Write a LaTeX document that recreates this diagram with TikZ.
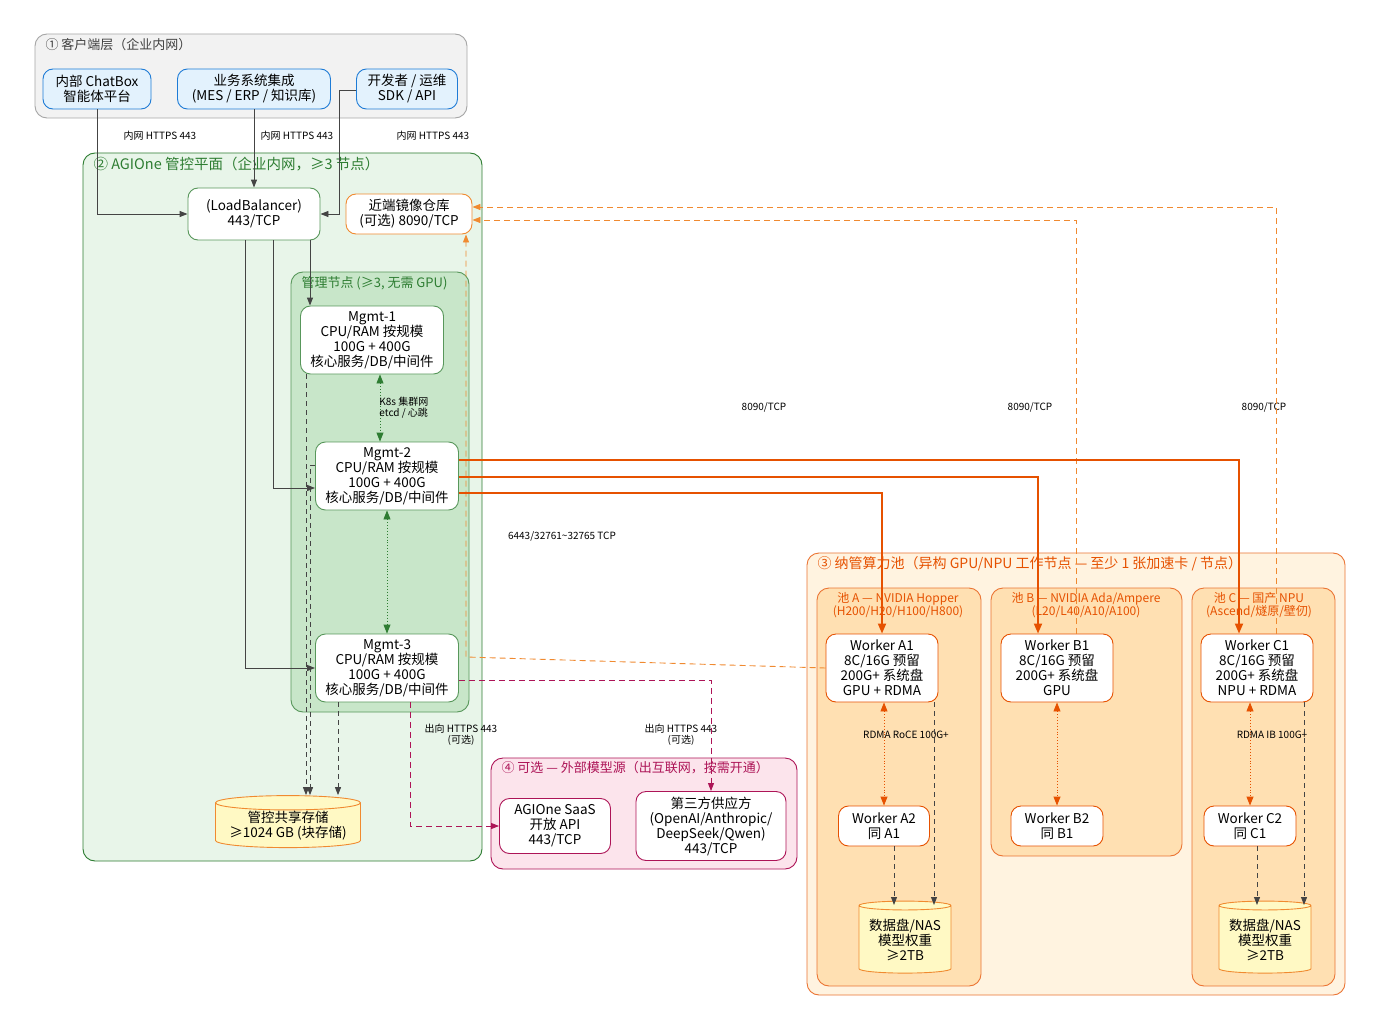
\documentclass[tikz,border=0pt]{standalone}
\usepackage{fontspec}
\setmainfont{Noto Sans CJK SC}
\usetikzlibrary{shapes.geometric,arrows.meta}
\definecolor{gbord}{HTML}{2E7D32}\definecolor{gfill}{HTML}{E8F5E9}\definecolor{gfill2}{HTML}{C8E6C9}
\definecolor{obord}{HTML}{E65100}\definecolor{ofill}{HTML}{FFF3E0}\definecolor{ofill2}{HTML}{FFE0B2}
\definecolor{ombord}{HTML}{F08A30}
\definecolor{pbord}{HTML}{AD1457}\definecolor{pfill}{HTML}{FCE4EC}
\definecolor{bbord}{HTML}{1E7BD6}\definecolor{bfill}{HTML}{E3F2FD}
\definecolor{cyl}{HTML}{FFF9C4}\definecolor{gr}{HTML}{444444}
\tikzset{
 grp/.style={draw, rounded corners=12pt, line width=0.9pt},
 ttl/.style={anchor=west, font=\fontsize{13}{14}\selectfont},
 box/.style={draw, rounded corners=10pt, fill=white, align=center, inner sep=1pt, line width=0.9pt, font=\fontsize{13.5}{15}\selectfont},
 cli/.style={box, draw=bbord, fill=bfill},
 mg/.style={box, draw=gbord!80},
 wk/.style={box, draw=obord},
 db/.style={cylinder, shape border rotate=90, aspect=0.12, draw=ombord, fill=cyl, align=center, inner sep=1pt, font=\fontsize{13.5}{15}\selectfont, line width=0.9pt},
 lbl/.style={font=\fontsize{10}{11}\selectfont, align=center},
 flow/.style={draw=gr, line width=0.9pt, -{Triangle[length=8pt,width=6pt]}},
 dflow/.style={flow, dash pattern=on 5pt off 4pt},
 gpu/.style={draw=obord, line width=1.8pt, -{Triangle[length=10pt,width=8pt]}},
 mir/.style={draw=ombord, line width=0.9pt, dash pattern=on 6pt off 4pt, -{Triangle[length=8pt,width=6pt]}},
 ext/.style={draw=pbord, line width=0.9pt, dash pattern=on 6pt off 4pt, -{Triangle[length=8pt,width=6pt]}},
 k8s/.style={draw=gbord, line width=0.9pt, dotted, {Triangle[length=9pt,width=7pt]}-{Triangle[length=9pt,width=7pt]}},
 rdma/.style={draw=obord, line width=0.9pt, dotted, {Triangle[length=9pt,width=7pt]}-{Triangle[length=9pt,width=7pt]}},
}
\begin{document}
\begin{tikzpicture}[x=1pt,y=-1pt]
\useasboundingbox[fill=white] (0,0) rectangle (1379,1030);
% groups
\draw[grp, draw=gray!70, fill=gray!10] (35,34) rectangle (467,118);
\node[ttl, text=black!75] at (42,45) {① 客户端层（企业内网）};
\draw[grp, draw=gbord, fill=gfill] (83,153) rectangle (482,861);
\node[ttl, text=gbord, font=\fontsize{14.5}{16}\selectfont] at (90,164) {② AGIOne 管控平面（企业内网，≥3 节点）};
\draw[grp, draw=gbord!80, fill=gfill2] (291,272) rectangle (469,712);
\node[ttl, text=gbord] at (298,283) {管理节点 (≥3, 无需 GPU)};
\draw[grp, draw=pbord, fill=pfill] (491,758) rectangle (797,869);
\node[ttl, text=pbord] at (498,768) {④ 可选 — 外部模型源（出互联网，按需开通）};
\draw[grp, draw=obord!80, fill=ofill] (807,553) rectangle (1345,995);
\node[ttl, text=obord, font=\fontsize{14}{15}\selectfont] at (814,564) {③ 纳管算力池（异构 GPU/NPU 工作节点 — 至少 1 张加速卡 / 节点）};
\draw[grp, draw=obord!80, fill=ofill2] (817,588) rectangle (981,986);
\draw[grp, draw=obord!80, fill=ofill2] (991,588) rectangle (1182,856);
\draw[grp, draw=obord!80, fill=ofill2] (1192,588) rectangle (1335,986);
\node[text=obord, align=center, inner sep=0pt, font=\fontsize{12}{13.5}\selectfont] at (898,605) {池 A — NVIDIA Hopper\\(H200/H20/H100/H800)};
\node[text=obord, align=center, inner sep=0pt, font=\fontsize{12}{13.5}\selectfont] at (1086,605) {池 B — NVIDIA Ada/Ampere\\(L20/L40/A10/A100)};
\node[text=obord, align=center, inner sep=0pt, font=\fontsize{12}{13.5}\selectfont] at (1259,605) {池 C — 国产 NPU\\(Ascend/燧原/壁仞)};
% nodes
\node[cli, minimum width=108pt, minimum height=40pt] (chat) at (97,89) {内部 ChatBox\\智能体平台};
\node[cli, minimum width=153pt, minimum height=40pt] (biz) at (254,89) {业务系统集成\\(MES / ERP / 知识库)};
\node[cli, minimum width=101pt, minimum height=40pt] (dev) at (407,89) {开发者 / 运维\\SDK / API};
\node[mg, minimum width=132pt, minimum height=52pt] (lb) at (254,214) {(LoadBalancer)\\443/TCP};
\node[box, draw=ombord, minimum width=126pt, minimum height=40pt] (mir) at (409,214) {近端镜像仓库\\(可选) 8090/TCP};
\node[mg, minimum width=143pt, minimum height=68pt] (m1) at (372,340) {Mgmt-1\\CPU/RAM 按规模\\100G + 400G\\核心服务/DB/中间件};
\node[mg, minimum width=143pt, minimum height=68pt] (m2) at (387,476) {Mgmt-2\\CPU/RAM 按规模\\100G + 400G\\核心服务/DB/中间件};
\node[mg, minimum width=143pt, minimum height=68pt] (m3) at (387,668) {Mgmt-3\\CPU/RAM 按规模\\100G + 400G\\核心服务/DB/中间件};
\node[db, minimum width=145pt, minimum height=52pt] (st) at (288,826) {管控共享存储\\≥1024 GB (块存储)};
\node[box, draw=pbord, minimum width=111pt, minimum height=55pt] (saas) at (555,826) {AGIOne SaaS\\开放 API\\443/TCP};
\node[box, draw=pbord, minimum width=150pt, minimum height=69pt] (tp) at (711,826) {第三方供应方\\(OpenAI/Anthropic/\\DeepSeek/Qwen)\\443/TCP};
\node[wk, minimum width=112pt, minimum height=68pt] (a1) at (882,668) {Worker A1\\8C/16G 预留\\200G+ 系统盘\\GPU + RDMA};
\node[wk, minimum width=112pt, minimum height=68pt] (b1) at (1057,668) {Worker B1\\8C/16G 预留\\200G+ 系统盘\\GPU};
\node[wk, minimum width=112pt, minimum height=68pt] (c1) at (1257,668) {Worker C1\\8C/16G 预留\\200G+ 系统盘\\NPU + RDMA};
\node[wk, minimum width=91pt, minimum height=40pt] (a2) at (884,826) {Worker A2\\同 A1};
\node[wk, minimum width=92pt, minimum height=40pt] (b2) at (1057,826) {Worker B2\\同 B1};
\node[wk, minimum width=92pt, minimum height=40pt] (c2) at (1250,826) {Worker C2\\同 C1};
\node[db, minimum width=92pt, minimum height=72pt] (sa) at (905,940) {数据盘/NAS\\模型权重\\≥2TB};
\node[db, minimum width=92pt, minimum height=72pt] (sc) at (1265,940) {数据盘/NAS\\模型权重\\≥2TB};
% labels
\node[lbl] at (160,136) {内网 HTTPS 443};
\node[lbl] at (297,136) {内网 HTTPS 443};
\node[lbl] at (433,136) {内网 HTTPS 443};
\node[lbl] at (764,407) {8090/TCP};
\node[lbl] at (1030,407) {8090/TCP};
\node[lbl] at (1264,407) {8090/TCP};
\node[lbl] at (562,536) {6443/32761\textasciitilde32765 TCP};
% mirror lines
\draw[mir] (a1.west) -- (466,657) -- ([xshift=57pt]mir.south);
\draw[mir] (b1.north -| 1076,0) -- (1076,220) -- ([yshift=-6pt]mir.east);
\draw[mir] (c1.north -| 1276,0) -- (1276,207) -- ([yshift=7pt]mir.east);
% client flows
\draw[flow] (chat.south) -- (97,214) -- (lb.west);
\draw[flow] (biz.south) -- (lb.north);
\draw[flow] ([yshift=-1pt]dev.west) -- (339,90) -- (339,214) -- (lb.east);
\draw[flow] ([xshift=56pt]lb.south) -- (m1.north -| 310,0);
\draw[flow] ([xshift=19pt]lb.south) -- (273,488) -- (m2.west |- 0,488);
\draw[flow] ([xshift=-9pt]lb.south) -- (245,668) -- (m3.west);
% k8s
\draw[k8s] (m1.south -| 380,0) -- (m2.north -| 380,0) node[midway, right=-2pt, lbl, align=left, inner sep=1pt] {K8s 集群网\\etcd / 心跳};
\draw[k8s] (m2.south) -- (m3.north);
% storage
\draw[dflow] (m1.south -| 306,0) -- (st.north -| 306,0);
\draw[dflow] (m2.west |- 0,465) -- (310,465) -- (st.north -| 310,0);
\draw[dflow] (m3.south -| 338,0) -- (st.north -| 338,0);
% GPU flows
\draw[gpu] (m2.east |- 0,460) -- (1239,460) -- (c1.north -| 1239,0);
\draw[gpu] (m2.east |- 0,477) -- (1038,477) -- (b1.north -| 1038,0);
\draw[gpu] (m2.east |- 0,493) -- (882,493) -- (a1.north);
% external
\draw[ext] (m3.east |- 0,680) -- (711,680) -- (tp.north);
\draw[ext] (m3.south -| 410,0) -- (410,826) -- (saas.west);
\node[lbl] at (461,735) {出向 HTTPS 443\\(可选)};
\node[lbl] at (681,735) {出向 HTTPS 443\\(可选)};
% pools
\draw[rdma] (a1.south -| 884,0) -- (a2.north);
\node[lbl] at (906,735) {RDMA RoCE 100G+};
\draw[rdma] (b1.south) -- (b2.north);
\draw[rdma] (c1.south -| 1250,0) -- (c2.north);
\node[lbl] at (1272,735) {RDMA IB 100G+};
\draw[dflow] (a1.south -| 934,0) -- (934,905);
\draw[dflow] (a2.south -| 894,0) -- (894,905);
\draw[dflow] (c1.south -| 1304,0) -- (1304,905);
\draw[dflow] (c2.south -| 1257,0) -- (1257,905);
\end{tikzpicture}
\end{document}
